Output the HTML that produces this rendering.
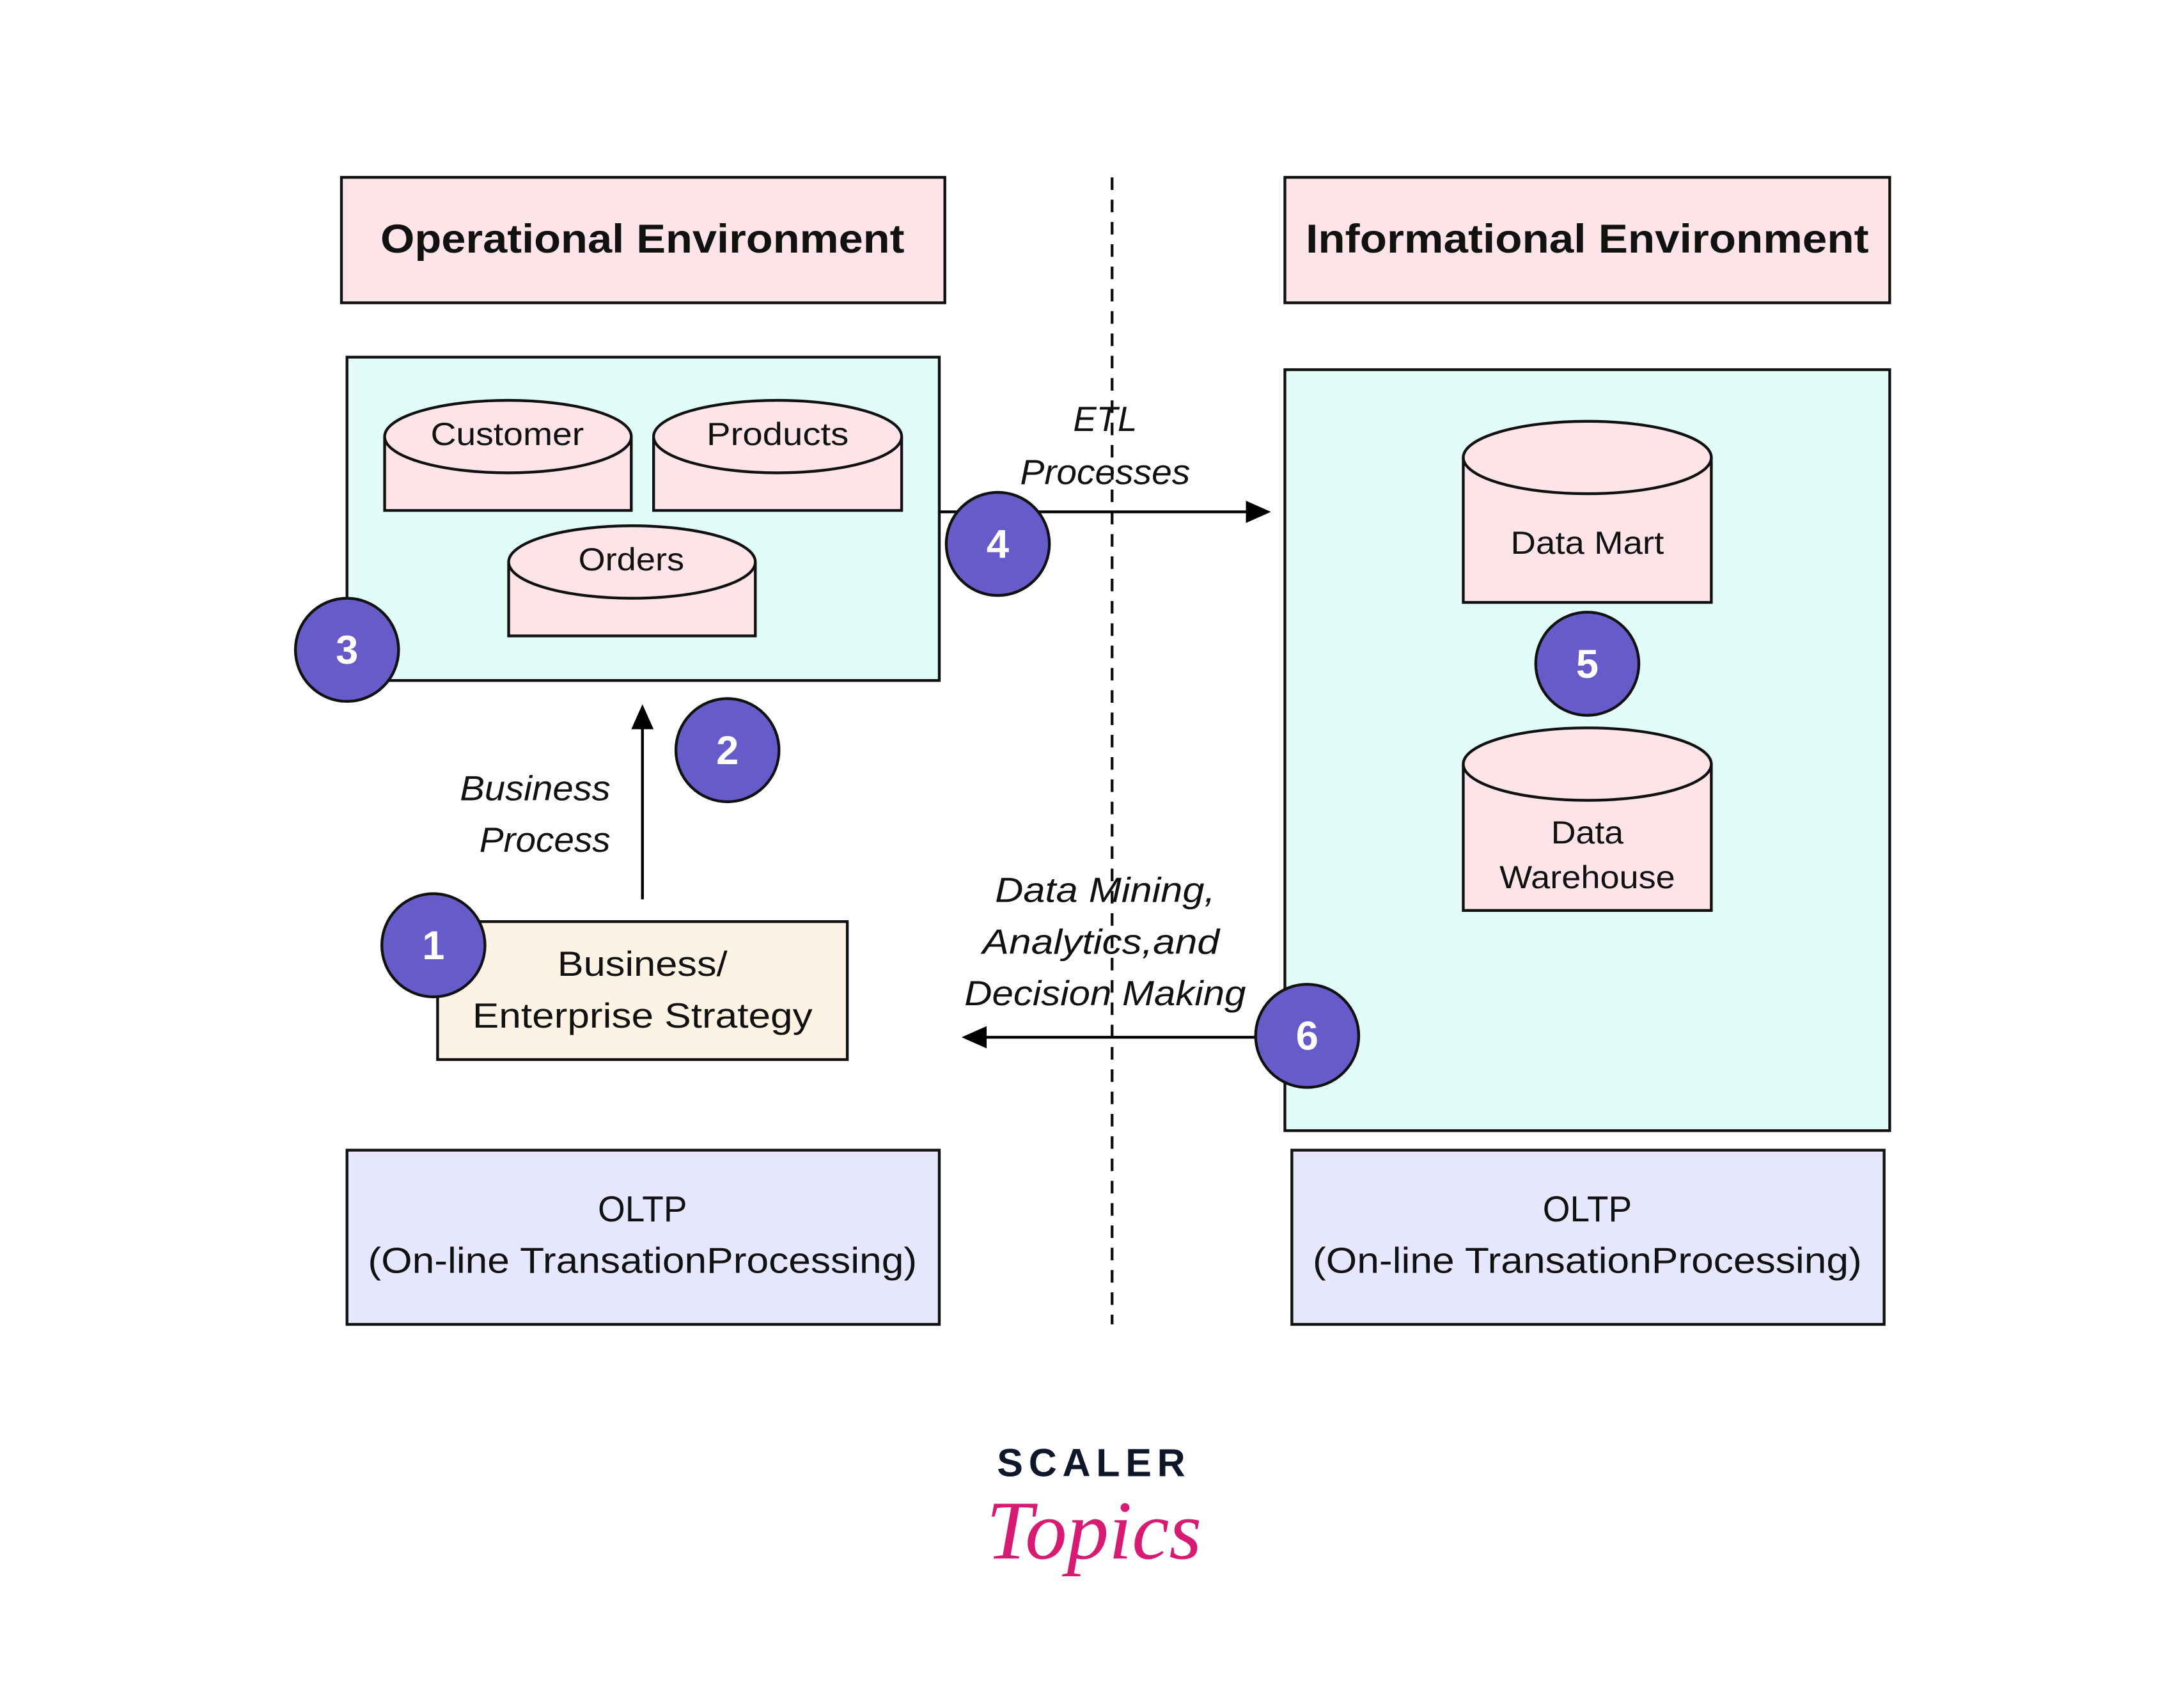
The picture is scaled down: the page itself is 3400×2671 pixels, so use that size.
<!DOCTYPE html>
<html><head><meta charset="utf-8"><style>
html,body{margin:0;padding:0;background:#fff;}
svg{display:block;}
text{font-family:"Liberation Sans",sans-serif;fill:#111;}
</style></head><body>
<svg width="3400" height="2671" viewBox="0 0 1560 1225" xmlns="http://www.w3.org/2000/svg">
<defs>
<marker id="ah" markerWidth="18" markerHeight="18" refX="2" refY="9" orient="auto" markerUnits="userSpaceOnUse" viewBox="0 0 18 18">
<path d="M0,1 L18,9 L0,17 z" fill="#000"/></marker>
</defs>
<rect width="1560" height="1225" fill="#fff"/>
<line x1="798" y1="127" x2="798" y2="950" stroke="#111" stroke-width="2" stroke-dasharray="9,7"/>
<rect x="245" y="127" width="433" height="90" fill="#fde4e8" stroke="#111" stroke-width="2"/>
<text x="461" y="181" font-size="29" font-weight="bold" text-anchor="middle" textLength="376" lengthAdjust="spacingAndGlyphs">Operational Environment</text>
<rect x="922" y="127" width="434" height="90" fill="#fde4e8" stroke="#111" stroke-width="2"/>
<text x="1139" y="181" font-size="29" font-weight="bold" text-anchor="middle" textLength="404" lengthAdjust="spacingAndGlyphs">Informational Environment</text>

<rect x="249" y="256" width="425" height="232" fill="#e2fdf8" stroke="#111" stroke-width="2"/>
<g fill="#fde4e8" stroke="#111" stroke-width="2">
<path d="M276,313 L276,366 L453,366 L453,313"/><ellipse cx="364.5" cy="313" rx="88.5" ry="26"/>
<path d="M469,313 L469,366 L647,366 L647,313"/><ellipse cx="558" cy="313" rx="89" ry="26"/>
<path d="M365,403 L365,456 L542,456 L542,403"/><ellipse cx="453.5" cy="403" rx="88.5" ry="26"/>
</g>
<g font-size="23" text-anchor="middle">
<text x="364" y="319" textLength="110" lengthAdjust="spacingAndGlyphs">Customer</text>
<text x="558" y="319" textLength="102" lengthAdjust="spacingAndGlyphs">Products</text>
<text x="453" y="409" textLength="76" lengthAdjust="spacingAndGlyphs">Orders</text>
</g>

<line x1="674" y1="367" x2="896" y2="367" stroke="#000" stroke-width="2" marker-end="url(#ah)"/>
<g font-size="25" font-style="italic" text-anchor="middle">
<text x="793" y="309">ETL</text>
<text x="793" y="347" textLength="122" lengthAdjust="spacingAndGlyphs">Processes</text>
<text x="438" y="574" text-anchor="end" textLength="108" lengthAdjust="spacingAndGlyphs">Business</text>
<text x="438" y="611" text-anchor="end" textLength="94" lengthAdjust="spacingAndGlyphs">Process</text>
<text x="793" y="647" textLength="158" lengthAdjust="spacingAndGlyphs">Data Mining,</text>
<text x="790" y="684" textLength="170" lengthAdjust="spacingAndGlyphs">Analytics,and</text>
<text x="793" y="721" textLength="202" lengthAdjust="spacingAndGlyphs">Decision Making</text>
</g>
<line x1="461" y1="645" x2="461" y2="521" stroke="#000" stroke-width="2" marker-end="url(#ah)"/>

<rect x="314" y="661" width="294" height="99" fill="#fdf3e5" stroke="#111" stroke-width="2"/>
<g font-size="25" text-anchor="middle">
<text x="461" y="700" textLength="122" lengthAdjust="spacingAndGlyphs">Business/</text>
<text x="461" y="737" textLength="244" lengthAdjust="spacingAndGlyphs">Enterprise Strategy</text>
</g>

<rect x="922" y="265" width="434" height="546" fill="#e2fdf8" stroke="#111" stroke-width="2"/>
<g fill="#fde4e8" stroke="#111" stroke-width="2">
<path d="M1050,328 L1050,432 L1228,432 L1228,328"/><ellipse cx="1139" cy="328" rx="89" ry="26"/>
<path d="M1050,548 L1050,653 L1228,653 L1228,548"/><ellipse cx="1139" cy="548" rx="89" ry="26"/>
</g>
<g font-size="23" text-anchor="middle">
<text x="1139" y="397" textLength="110" lengthAdjust="spacingAndGlyphs">Data Mart</text>
<text x="1139" y="605" textLength="52" lengthAdjust="spacingAndGlyphs">Data</text>
<text x="1139" y="637" textLength="126" lengthAdjust="spacingAndGlyphs">Warehouse</text>
</g>
<line x1="902" y1="744" x2="706" y2="744" stroke="#000" stroke-width="2" marker-end="url(#ah)"/>

<rect x="249" y="825" width="425" height="125" fill="#e6e6fc" stroke="#111" stroke-width="2"/>
<rect x="927" y="825" width="425" height="125" fill="#e6e6fc" stroke="#111" stroke-width="2"/>
<g font-size="26" text-anchor="middle">
<text x="461" y="876" textLength="64" lengthAdjust="spacingAndGlyphs">OLTP</text>
<text x="461" y="913" textLength="394" lengthAdjust="spacingAndGlyphs">(On-line TransationProcessing)</text>
<text x="1139" y="876" textLength="64" lengthAdjust="spacingAndGlyphs">OLTP</text>
<text x="1139" y="913" textLength="394" lengthAdjust="spacingAndGlyphs">(On-line TransationProcessing)</text>
</g>

<g fill="#675bc9" stroke="#111" stroke-width="2">
<circle cx="249" cy="466" r="37"/><circle cx="716" cy="390" r="37"/><circle cx="522" cy="538" r="37"/>
<circle cx="311" cy="678" r="37"/><circle cx="1139" cy="476" r="37"/><circle cx="938" cy="743" r="37"/>
</g>
<g font-size="29" font-weight="bold" text-anchor="middle">
<text x="249" y="476" style="fill:#fff">3</text><text x="716" y="400" style="fill:#fff">4</text>
<text x="522" y="548" style="fill:#fff">2</text><text x="311" y="688" style="fill:#fff">1</text>
<text x="1139" y="486" style="fill:#fff">5</text><text x="938" y="753" style="fill:#fff">6</text>
</g>

<text x="785" y="1059" font-size="28" font-weight="bold" text-anchor="middle" letter-spacing="4" style="fill:#0f172a">SCALER</text>
<text x="785" y="1118" font-size="60" font-style="italic" text-anchor="middle" style="fill:#d81b72;font-family:'Liberation Serif',serif">Topics</text>
</svg>
</body></html>
